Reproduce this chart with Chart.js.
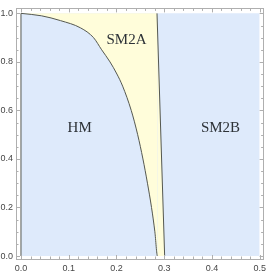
<!DOCTYPE html>
<html><head><meta charset="utf-8">
<style>html,body{margin:0;padding:0;background:#fff;}#wrap{width:270px;height:277px;}</style>
<script src="https://cdn.jsdelivr.net/npm/chart.js@4/dist/chart.umd.min.js"></script>
</head><body><div id="wrap"><canvas id="c" width="270" height="277"></canvas></div>
<script>
// Phase boundary HM / SM2A (curve)
const curveX = [0, 0.043, 0.083, 0.125, 0.152, 0.169, 0.1865, 0.201, 0.213, 0.231, 0.2445, 0.2555, 0.265, 0.2735, 0.2805, 0.286];
const curveY = [1, 0.99, 0.97, 0.94, 0.9, 0.85, 0.8, 0.75, 0.7, 0.6, 0.5, 0.4, 0.3, 0.2, 0.1, 0];
// Phase boundary SM2A / SM2B (nearly vertical line)
const lineX = [0.285, 0.301];
const lineY = [1, 0];
// Region labels
const labelText = ['HM', 'SM2A', 'SM2B'];
const labelX = [0.123, 0.221, 0.418];
const labelY = [0.526, 0.889, 0.526];
// Ticks
const xTicks = [0, 0.1, 0.2, 0.3, 0.4, 0.5];
const yTicks = [0, 0.2, 0.4, 0.6, 0.8, 1.0];
const xMinor = [0.02,0.04,0.06,0.08,0.12,0.14,0.16,0.18,0.22,0.24,0.26,0.28,0.32,0.34,0.36,0.38,0.42,0.44,0.46,0.48];
const yMinor = [0.05,0.1,0.15,0.25,0.3,0.35,0.45,0.5,0.55,0.65,0.7,0.75,0.85,0.9,0.95];
const xRange = [0, 0.5];
const yRange = [0, 1];

const BLUE = 'rgb(222,234,251)';
const YELLOW = 'rgb(255,253,218)';
const DARK = 'rgb(85,88,80)';
const FRAME = 'rgb(175,175,175)';

const pts = (xs, ys) => xs.map((x, i) => ({x, y: ys[i]}));
const curvePts = pts(curveX, curveY);
const upperPts = [{x: xRange[0], y: yRange[1]}].concat(pts(lineX, lineY));
const lowerPts = curvePts.concat([{x: lineX[1], y: lineY[1]}]);

const labelsPlugin = {
  id: 'regionLabels',
  afterDatasetsDraw(chart) {
    const {ctx, scales} = chart;
    ctx.save();
    ctx.font = '15px "Liberation Serif", "DejaVu Serif", serif';
    ctx.fillStyle = 'rgb(45,50,55)';
    ctx.textAlign = 'center';
    ctx.textBaseline = 'middle';
    labelText.forEach((t, i) => {
      ctx.fillText(t, scales.x.getPixelForValue(labelX[i]), scales.y.getPixelForValue(labelY[i]));
    });
    ctx.restore();
  }
};
const ticksPlugin = {
  id: 'inTicks',
  afterDraw(chart) {
    const {ctx, chartArea: a, scales} = chart;
    ctx.save();
    ctx.strokeStyle = FRAME;
    ctx.lineWidth = 1;
    ctx.beginPath();
    const tx = (vals, len) => vals.forEach(v => {
      const p = Math.round(scales.x.getPixelForValue(v)) + 0.5;
      ctx.moveTo(p, a.bottom); ctx.lineTo(p, a.bottom - len);
      ctx.moveTo(p, a.top); ctx.lineTo(p, a.top + len);
    });
    const ty = (vals, len) => vals.forEach(v => {
      const p = Math.round(scales.y.getPixelForValue(v)) + 0.5;
      ctx.moveTo(a.left, p); ctx.lineTo(a.left + len, p);
      ctx.moveTo(a.right, p); ctx.lineTo(a.right - len, p);
    });
    tx(xTicks, 4); tx(xMinor, 2.5); ty(yTicks, 4); ty(yMinor, 2.5);
    ctx.stroke();
    ctx.restore();
  }
};

const tickFont = {family: '"Liberation Sans", Arial, sans-serif', size: 9};
new Chart(document.getElementById('c'), {
  type: 'line',
  data: {
    datasets: [
      {data: pts(xRange, [yRange[1], yRange[1]]), fill: 'origin', backgroundColor: BLUE, borderWidth: 0, pointRadius: 0, order: 10},
      {data: upperPts, fill: '+1', backgroundColor: YELLOW, borderWidth: 1, borderColor: DARK, pointRadius: 0, order: 5,
        segment: {borderColor: c => c.p0DataIndex === 0 ? 'rgba(0,0,0,0)' : DARK}},
      {data: lowerPts, fill: false, borderWidth: 1, borderColor: DARK, pointRadius: 0, cubicInterpolationMode: 'monotone', order: 4,
        segment: {borderColor: c => c.p0DataIndex >= curvePts.length - 1 ? 'rgba(0,0,0,0)' : DARK}},
      {data: pts([xRange[0], xRange[0]], yRange), fill: false, borderWidth: 1, borderColor: DARK, pointRadius: 0, order: 3}
    ]
  },
  options: {
    responsive: false,
    animation: false,
    events: [],
    layout: {padding: {top: 7, right: 5, left: 0, bottom: 0}},
    plugins: {legend: {display: false}, tooltip: {enabled: false}},
    scales: {
      x: {
        type: 'linear', position: 'bottom', min: -5/480, max: 249/480 - 5/480,
        afterBuildTicks: s => { s.ticks = xTicks.map(v => ({value: v})); },
        afterFit: s => { s.height = 18; },
        ticks: {font: tickFont, color: 'rgb(70,70,70)', padding: 4, maxRotation: 0, callback: v => v.toFixed(1)},
        grid: {display: false, drawTicks: false},
        border: {display: true, color: FRAME, width: 1}
      },
      y: {
        type: 'linear', position: 'left', min: -3/244, max: 249/244,
        afterBuildTicks: s => { s.ticks = yTicks.map(v => ({value: v})); },
        afterFit: s => { s.width = 16; },
        ticks: {font: tickFont, color: 'rgb(70,70,70)', padding: 3, callback: v => v.toFixed(1)},
        grid: {display: false, drawTicks: false},
        border: {display: true, color: FRAME, width: 1}
      },
      x2: {
        type: 'linear', position: 'top', min: -5/480, max: 249/480 - 5/480,
        afterFit: s => { s.height = 0; },
        ticks: {display: false}, grid: {display: false, drawTicks: false},
        border: {display: true, color: FRAME, width: 1}
      },
      y2: {
        type: 'linear', position: 'right', min: -3/244, max: 249/244,
        afterFit: s => { s.width = 0; },
        ticks: {display: false}, grid: {display: false, drawTicks: false},
        border: {display: true, color: FRAME, width: 1}
      }
    }
  },
  plugins: [labelsPlugin, ticksPlugin]
});
</script>
</body></html>
